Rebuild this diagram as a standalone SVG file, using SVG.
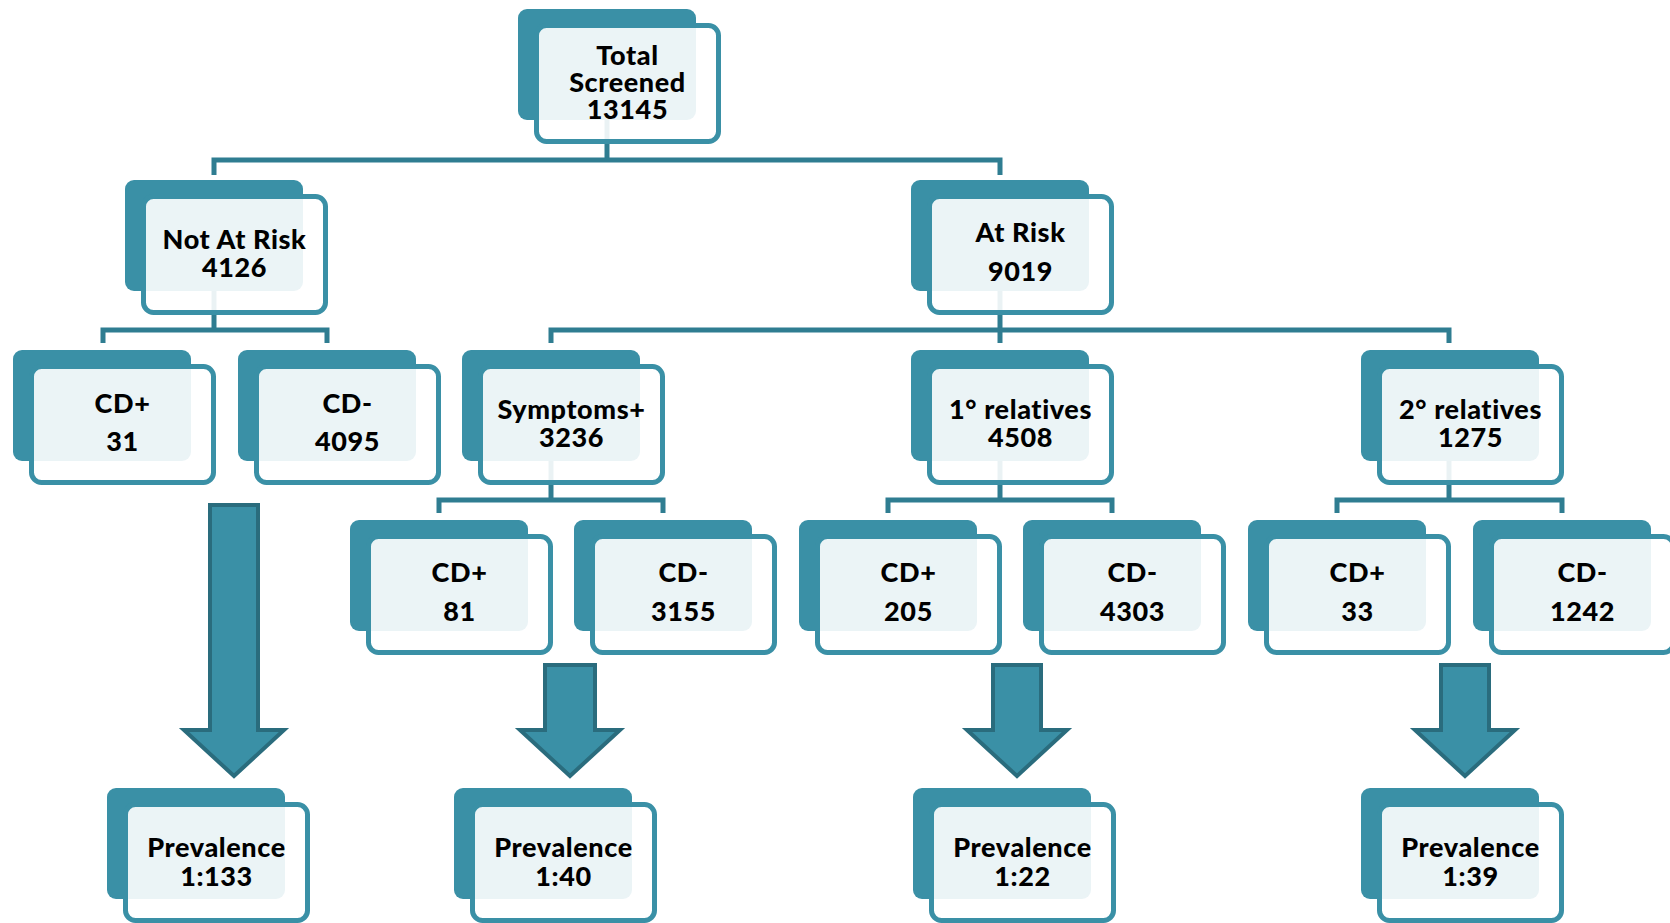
<svg xmlns="http://www.w3.org/2000/svg" width="1670" height="923" viewBox="0 0 1670 923">
<style>
.bk{fill:#3A90A6}
.fr{fill:#ffffff;fill-opacity:0.9;stroke:#3A90A6;stroke-width:5}
.t{font-family:Lato,"Liberation Sans",sans-serif;font-weight:900;font-size:27px;letter-spacing:0.6px;fill:#000;text-anchor:middle}
.cn{fill:none;stroke:#2F7D91;stroke-width:5;stroke-linejoin:miter;stroke-linecap:butt}
.ar{fill:#3A90A6;stroke:#2A6C7D;stroke-width:4;stroke-linejoin:miter}
</style>
<defs>
<g id="box">
<rect class="bk" x="0" y="0" width="178" height="111" rx="9"/>
<rect class="fr" x="18.5" y="16.5" width="182" height="116" rx="10"/>
</g>
</defs>
<rect width="1670" height="923" fill="#ffffff"/>
<g id="connectors">
<path class="cn" d="M607 100 V160"/>
<path class="cn" d="M214 175 V160 H1000 V175"/>
<path class="cn" d="M214 270 V330"/>
<path class="cn" d="M103 343 V330 H327 V343"/>
<path class="cn" d="M1000 270 V343"/>
<path class="cn" d="M551 343 V330 H1449 V343"/>
<path class="cn" d="M551 440 V500"/>
<path class="cn" d="M439 513 V500 H663 V513"/>
<path class="cn" d="M1000 440 V500"/>
<path class="cn" d="M888 513 V500 H1112 V513"/>
<path class="cn" d="M1449 440 V500"/>
<path class="cn" d="M1337 513 V500 H1562 V513"/>
<polygon class="ar" points="210,505 258,505 258,730 284,730 234,776 184,730 210,730"/>
<polygon class="ar" points="545,665 595,665 595,730 620,730 570,776 520,730 545,730"/>
<polygon class="ar" points="993,665 1041,665 1041,730 1067,730 1017,776 967,730 993,730"/>
<polygon class="ar" points="1441,665 1489,665 1489,730 1515,730 1465,776 1415,730 1441,730"/>
</g>
<g id="total" transform="translate(518,9)"><use href="#box"/><text class="t" x="109.5" y="56">Total</text><text class="t" x="109.5" y="83">Screened</text><text class="t" x="109.5" y="110">13145</text></g>
<g id="notatrisk" transform="translate(125,180)"><use href="#box"/><text class="t" x="109.5" y="69">Not At Risk</text><text class="t" x="109.5" y="97">4126</text></g>
<g id="atrisk" transform="translate(911,180)"><use href="#box"/><text class="t" x="109.5" y="62">At Risk</text><text class="t" x="109.5" y="101">9019</text></g>
<g id="cdpos-notatrisk" transform="translate(13,350)"><use href="#box"/><text class="t" x="109.5" y="63">CD+</text><text class="t" x="109.5" y="101">31</text></g>
<g id="cdneg-notatrisk" transform="translate(238,350)"><use href="#box"/><text class="t" x="109.5" y="63">CD-</text><text class="t" x="109.5" y="101">4095</text></g>
<g id="symptoms" transform="translate(462,350)"><use href="#box"/><text class="t" x="109.5" y="69">Symptoms+</text><text class="t" x="109.5" y="97">3236</text></g>
<g id="rel1" transform="translate(911,350)"><use href="#box"/><text class="t" x="109.5" y="69">1° relatives</text><text class="t" x="109.5" y="97">4508</text></g>
<g id="rel2" transform="translate(1361,350)"><use href="#box"/><text class="t" x="109.5" y="69">2° relatives</text><text class="t" x="109.5" y="97">1275</text></g>
<g id="cdpos-symptoms" transform="translate(350,520)"><use href="#box"/><text class="t" x="109.5" y="62">CD+</text><text class="t" x="109.5" y="101">81</text></g>
<g id="cdneg-symptoms" transform="translate(574,520)"><use href="#box"/><text class="t" x="109.5" y="62">CD-</text><text class="t" x="109.5" y="101">3155</text></g>
<g id="cdpos-rel1" transform="translate(799,520)"><use href="#box"/><text class="t" x="109.5" y="62">CD+</text><text class="t" x="109.5" y="101">205</text></g>
<g id="cdneg-rel1" transform="translate(1023,520)"><use href="#box"/><text class="t" x="109.5" y="62">CD-</text><text class="t" x="109.5" y="101">4303</text></g>
<g id="cdpos-rel2" transform="translate(1248,520)"><use href="#box"/><text class="t" x="109.5" y="62">CD+</text><text class="t" x="109.5" y="101">33</text></g>
<g id="cdneg-rel2" transform="translate(1473,520)"><use href="#box"/><text class="t" x="109.5" y="62">CD-</text><text class="t" x="109.5" y="101">1242</text></g>
<g id="prev-notatrisk" transform="translate(107,788)"><use href="#box"/><text class="t" x="109.5" y="69">Prevalence</text><text class="t" x="109.5" y="98">1:133</text></g>
<g id="prev-symptoms" transform="translate(454,788)"><use href="#box"/><text class="t" x="109.5" y="69">Prevalence</text><text class="t" x="109.5" y="98">1:40</text></g>
<g id="prev-rel1" transform="translate(913,788)"><use href="#box"/><text class="t" x="109.5" y="69">Prevalence</text><text class="t" x="109.5" y="98">1:22</text></g>
<g id="prev-rel2" transform="translate(1361,788)"><use href="#box"/><text class="t" x="109.5" y="69">Prevalence</text><text class="t" x="109.5" y="98">1:39</text></g>
</svg>
